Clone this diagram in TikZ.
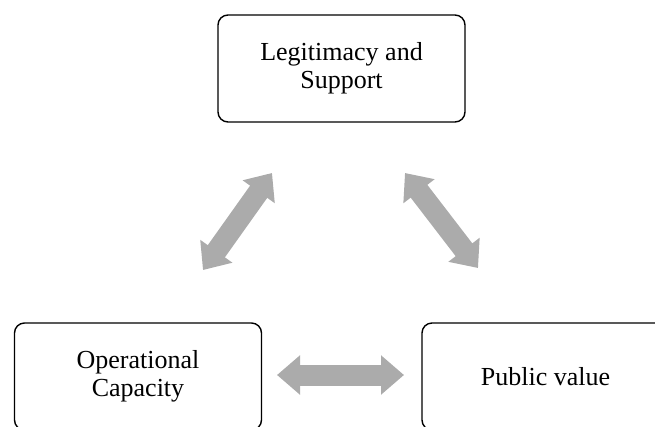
\documentclass[tikz,border=0pt]{standalone}
\usepackage{fontspec}
\setmainfont{Liberation Serif}
\usetikzlibrary{arrows.meta}

\begin{document}
\begin{tikzpicture}[x=1pt, y=-1pt,
    box/.style={rectangle, draw, line width=1.4pt, rounded corners=10pt,
        minimum width=247pt, minimum height=107pt, align=center,
        font=\fontsize{26}{28}\selectfont},
    twoway/.style={line width=21pt, color=black!33,
        {Triangle[width=38pt, length=23pt]}-{Triangle[width=38pt, length=23pt]}}]
    \useasboundingbox (0,0) rectangle (655,426);
    \clip (0,0) rectangle (655,426);

    % Boxes
    \node [box] (legit) at (341.5,68.5) {Legitimacy and\\Support};
    \node [box] (opcap) at (138,376.5) {Operational\\Capacity};
    \node [box] (pubval) at (545.5,376.5) {Public value};

    % Arrow ends
    \coordinate (la) at (203,270);
    \coordinate (lb) at (272,173);
    \coordinate (ra) at (405,173);
    \coordinate (rb) at (478,268);
    \coordinate (ba) at (277,375);
    \coordinate (bb) at (404,375);

    % Arrows
    \draw [twoway] (la) -- (lb);
    \draw [twoway] (ra) -- (rb);
    \draw [twoway] (ba) -- (bb);
\end{tikzpicture}
\end{document}
